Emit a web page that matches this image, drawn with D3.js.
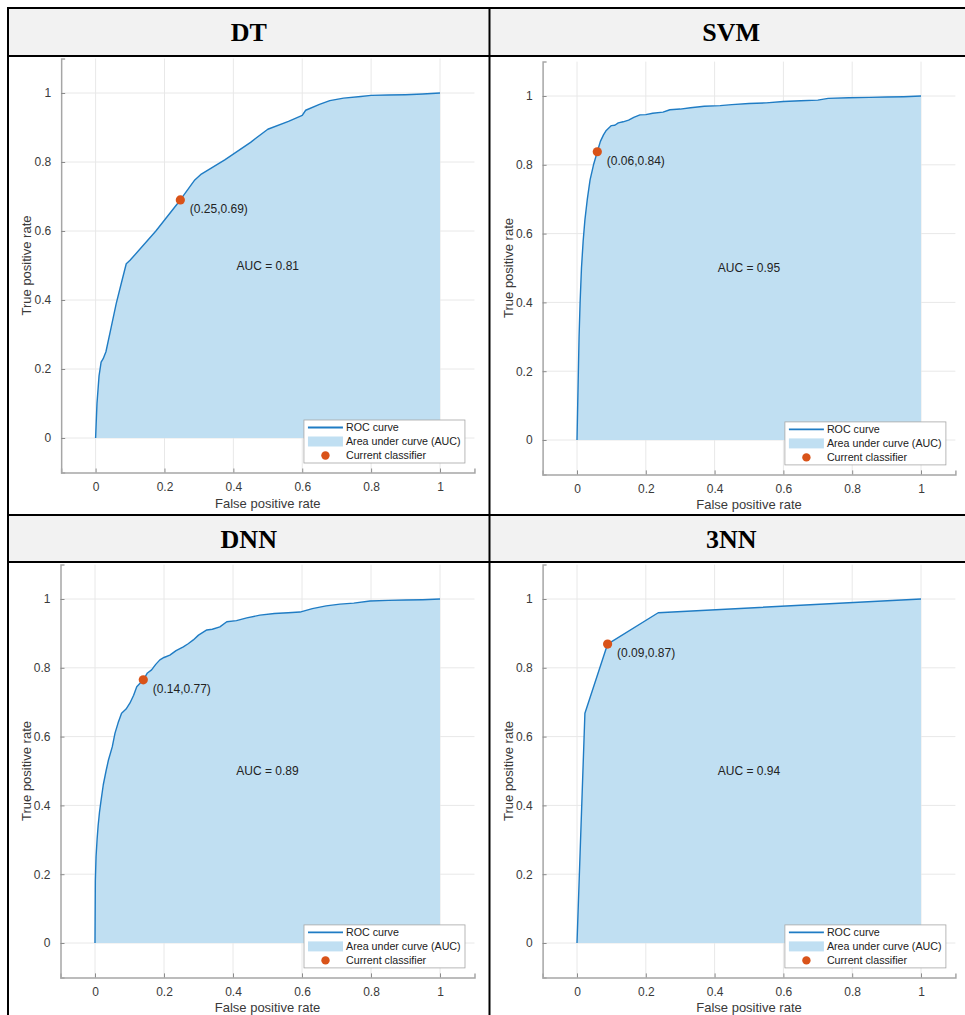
<!DOCTYPE html>
<html>
<head>
<meta charset="utf-8">
<script src="https://cdn.jsdelivr.net/npm/d3@7"></script>
<style>
  html, body { margin: 0; padding: 0; background: #fff; }
  svg { display: block; }
</style>
</head>
<body>
<svg id="chart" width="965" height="1015"></svg>
<script>
// ---------------- DATA ----------------
const titles = ["DT", "SVM", "DNN", "3NN"];
const aucValues = [0.81, 0.95, 0.89, 0.94];
const operatingFpr = [0.25, 0.06, 0.14, 0.09];
const operatingTpr = [0.69, 0.84, 0.77, 0.87];
const plotOpFpr = [0.246, 0.059, 0.14, 0.089];
const plotOpTpr = [0.69, 0.838, 0.765, 0.869];

const dtFpr = [0, 0.004, 0.01, 0.016, 0.022, 0.03, 0.045, 0.06, 0.075, 0.089, 0.1, 0.175, 0.246, 0.288, 0.307, 0.375, 0.45, 0.5, 0.56, 0.6, 0.61, 0.65, 0.68, 0.72, 0.77, 0.8, 0.85, 0.9, 0.95, 1];
const dtTpr = [0, 0.1, 0.18, 0.22, 0.23, 0.25, 0.32, 0.39, 0.45, 0.505, 0.515, 0.6, 0.69, 0.748, 0.765, 0.806, 0.857, 0.895, 0.918, 0.935, 0.95, 0.967, 0.978, 0.985, 0.99, 0.993, 0.994, 0.995, 0.997, 1];

const svmFpr = [0, 0.002, 0.004, 0.006, 0.009, 0.013, 0.018, 0.023, 0.03, 0.038, 0.048, 0.059, 0.068, 0.077, 0.085, 0.1, 0.11, 0.12, 0.134, 0.15, 0.165, 0.183, 0.2, 0.22, 0.25, 0.27, 0.3, 0.33, 0.37, 0.416, 0.45, 0.5, 0.55, 0.6, 0.65, 0.7, 0.73, 0.79, 0.85, 0.9, 0.95, 1];
const svmTpr = [0, 0.1, 0.2, 0.3, 0.4, 0.5, 0.58, 0.64, 0.7, 0.756, 0.8, 0.838, 0.868, 0.887, 0.9, 0.914, 0.915, 0.922, 0.925, 0.93, 0.938, 0.945, 0.946, 0.95, 0.953, 0.96, 0.962, 0.966, 0.97, 0.972, 0.975, 0.978, 0.98, 0.984, 0.986, 0.988, 0.993, 0.995, 0.996, 0.997, 0.998, 1];

const dnnFpr = [0, 0.001, 0.003, 0.006, 0.009, 0.013, 0.017, 0.024, 0.032, 0.039, 0.05, 0.058, 0.067, 0.077, 0.09, 0.101, 0.112, 0.121, 0.14, 0.152, 0.164, 0.176, 0.188, 0.2, 0.217, 0.235, 0.256, 0.27, 0.285, 0.3, 0.324, 0.34, 0.362, 0.382, 0.41, 0.44, 0.478, 0.52, 0.56, 0.594, 0.63, 0.67, 0.71, 0.75, 0.797, 0.85, 0.9, 0.95, 1];
const dnnTpr = [0, 0.18, 0.25, 0.3, 0.34, 0.38, 0.41, 0.46, 0.5, 0.532, 0.57, 0.61, 0.64, 0.668, 0.68, 0.697, 0.72, 0.745, 0.765, 0.785, 0.794, 0.81, 0.823, 0.83, 0.837, 0.85, 0.861, 0.87, 0.881, 0.895, 0.91, 0.912, 0.919, 0.934, 0.937, 0.945, 0.953, 0.958, 0.96, 0.962, 0.972, 0.98, 0.985, 0.988, 0.994, 0.996, 0.997, 0.998, 1];

const knnFpr = [0, 0.023, 0.089, 0.236, 1];
const knnTpr = [0, 0.668, 0.869, 0.96, 1];

const curvesFpr = [dtFpr, svmFpr, dnnFpr, knnFpr];
const curvesTpr = [dtTpr, svmTpr, dnnTpr, knnTpr];

const tickValues = [0, 0.2, 0.4, 0.6, 0.8, 1];
const tickLabels = ["0", "0.2", "0.4", "0.6", "0.8", "1"];
const legendLabels = ["ROC curve", "Area under curve (AUC)", "Current classifier"];
const xAxisTitle = "False positive rate";
const yAxisTitle = "True positive rate";

// ---------------- LAYOUT ----------------
const layout = [
  { col: 0, row: 0, x0: 95.6, x1: 440, y0: 438, y1: 93 },
  { col: 1, row: 0, x0: 577, x1: 921, y0: 440, y1: 96 },
  { col: 0, row: 1, x0: 95, x1: 440, y0: 943, y1: 599 },
  { col: 1, row: 1, x0: 577, x1: 921, y0: 943, y1: 599 }
];
const colX = [8, 489.5, 973];
const headerTop = [8, 515];
const headerBottom = [56, 562];

const BLUE = "#1f7cc4";
const FILL = "#c0dff2";
const ORANGE = "#D95319";
const TEXT = "#3a3a3a";
const FONT = "'Liberation Sans', Arial, Helvetica, sans-serif";

const svg = d3.select("#chart");

// ---------------- TABLE ----------------
const table = svg.append("g");
for (let r = 0; r < 2; r++) {
  table.append("rect")
    .attr("x", colX[0]).attr("y", headerTop[r])
    .attr("width", colX[2] - colX[0]).attr("height", headerBottom[r] - headerTop[r])
    .attr("fill", "#f2f2f2");
}

// ---------------- PANELS ----------------
layout.forEach((L, i) => {
  const ext = (L.x1 - L.x0) * 0.1;
  const extY = (L.y0 - L.y1) * 0.1;
  const x = d3.scaleLinear().domain([-0.1, 1.1]).range([L.x0 - ext, L.x1 + ext]);
  const y = d3.scaleLinear().domain([-0.1, 1.1]).range([L.y0 + extY, L.y1 - extY]);
  const g = svg.append("g");
  const [xl, xr] = x.range();
  const [yb, yt] = y.range();

  // grid
  g.append("g").selectAll("line.gx").data(tickValues).join("line")
    .attr("x1", d => x(d)).attr("x2", d => x(d)).attr("y1", yb).attr("y2", yt)
    .attr("stroke", "#e8e8e8").attr("stroke-width", 1);
  g.append("g").selectAll("line.gy").data(tickValues).join("line")
    .attr("y1", d => y(d)).attr("y2", d => y(d)).attr("x1", xl).attr("x2", xr)
    .attr("stroke", "#e8e8e8").attr("stroke-width", 1);

  const pts = curvesFpr[i].map((f, k) => [f, curvesTpr[i][k]]);
  const area = d3.area().x(d => x(d[0])).y0(y(0)).y1(d => y(d[1]));
  const line = d3.line().x(d => x(d[0])).y(d => y(d[1]));
  g.append("path").datum(pts).attr("d", area).attr("fill", FILL);
  g.append("path").datum(pts).attr("d", line).attr("fill", "none")
    .attr("stroke", BLUE).attr("stroke-width", 1.4).attr("stroke-linejoin", "round");

  // axes (left & bottom only, ticks inward)
  const xAxis = d3.axisBottom(x).tickValues(tickValues).tickFormat((d, k) => tickLabels[k]).tickSize(-4).tickPadding(10);
  const yAxis = d3.axisLeft(y).tickValues(tickValues).tickFormat((d, k) => tickLabels[k]).tickSize(-4).tickPadding(10);
  const gx = g.append("g").attr("transform", `translate(0,${yb})`).call(xAxis);
  const gy = g.append("g").attr("transform", `translate(${xl},0)`).call(yAxis);
  [gx, gy].forEach(a => {
    a.select(".domain").attr("stroke", "#a6a6a6").attr("stroke-width", 1.5);
    a.selectAll(".tick line").attr("stroke", "#8c8c8c");
    a.selectAll(".tick text").attr("fill", TEXT).attr("font-size", 12).attr("font-family", FONT);
  });

  g.append("text").attr("x", x(0.5)).attr("y", yb + 35)
    .attr("text-anchor", "middle").attr("font-size", 13).attr("font-family", FONT)
    .attr("fill", TEXT).text(xAxisTitle);
  g.append("text")
    .attr("transform", `translate(${xl - 30},${y(0.5)}) rotate(-90)`)
    .attr("text-anchor", "middle").attr("font-size", 13).attr("font-family", FONT)
    .attr("fill", TEXT).text(yAxisTitle);

  // AUC text
  g.append("text").attr("x", x(0.5)).attr("y", y(0.5)).attr("dy", "0.35em")
    .attr("text-anchor", "middle").attr("font-size", 12).attr("font-family", FONT)
    .attr("fill", "#222").text(`AUC = ${aucValues[i].toFixed(2)}`);

  // operating point
  const px = x(plotOpFpr[i]), py = y(plotOpTpr[i]);
  g.append("circle").attr("cx", px).attr("cy", py).attr("r", 4.6).attr("fill", ORANGE);
  g.append("text").attr("x", px + 9.5).attr("y", py + 9).attr("dy", "0.35em")
    .attr("font-size", 12).attr("font-family", FONT).attr("fill", "#222")
    .text(`(${operatingFpr[i].toFixed(2)},${operatingTpr[i].toFixed(2)})`);

  // legend (southeast)
  const lw = 161, lh = 43;
  const lx = xr - 9.5 - lw, ly = yb - 9.5 - lh;
  const lg = g.append("g").attr("transform", `translate(${lx},${ly})`);
  lg.append("rect").attr("width", lw).attr("height", lh).attr("fill", "#fff")
    .attr("stroke", "#a6a6a6").attr("stroke-width", 0.8);
  const rowsY = [7.5, 21.5, 35.5];
  lg.append("line").attr("x1", 4).attr("x2", 39).attr("y1", rowsY[0]).attr("y2", rowsY[0])
    .attr("stroke", BLUE).attr("stroke-width", 1.8);
  lg.append("rect").attr("x", 4).attr("y", rowsY[1] - 5).attr("width", 35).attr("height", 10).attr("fill", FILL);
  lg.append("circle").attr("cx", 21.5).attr("cy", rowsY[2]).attr("r", 4.2).attr("fill", ORANGE);
  lg.selectAll("text.lt").data(legendLabels).join("text")
    .attr("x", 42).attr("y", (d, k) => rowsY[k]).attr("dy", "0.35em")
    .attr("font-size", 10.7).attr("font-family", FONT).attr("fill", "#222").text(d => d);

  // title
  svg.append("text")
    .attr("x", (colX[L.col] + colX[L.col + 1]) / 2)
    .attr("y", (headerTop[L.row] + headerBottom[L.row]) / 2)
    .attr("dy", "0.35em").attr("text-anchor", "middle")
    .attr("font-family", "'Liberation Serif', 'Times New Roman', serif")
    .attr("font-weight", "bold").attr("font-size", 26).attr("fill", "#000")
    .text(titles[i]);
});

// table lines
const tl = svg.append("g").attr("stroke", "#000").attr("stroke-width", 2);
tl.append("line").attr("x1", colX[0]).attr("x2", colX[2]).attr("y1", headerTop[0]).attr("y2", headerTop[0]);
tl.append("line").attr("x1", colX[0]).attr("x2", colX[2]).attr("y1", headerBottom[0]).attr("y2", headerBottom[0]);
tl.append("line").attr("x1", colX[0]).attr("x2", colX[2]).attr("y1", headerTop[1]).attr("y2", headerTop[1]);
tl.append("line").attr("x1", colX[0]).attr("x2", colX[2]).attr("y1", headerBottom[1]).attr("y2", headerBottom[1]);
tl.append("line").attr("x1", colX[0]).attr("x2", colX[0]).attr("y1", headerTop[0] - 1).attr("y2", 1015);
tl.append("line").attr("x1", colX[1]).attr("x2", colX[1]).attr("y1", headerTop[0] - 1).attr("y2", 1015);
</script>
</body>
</html>
